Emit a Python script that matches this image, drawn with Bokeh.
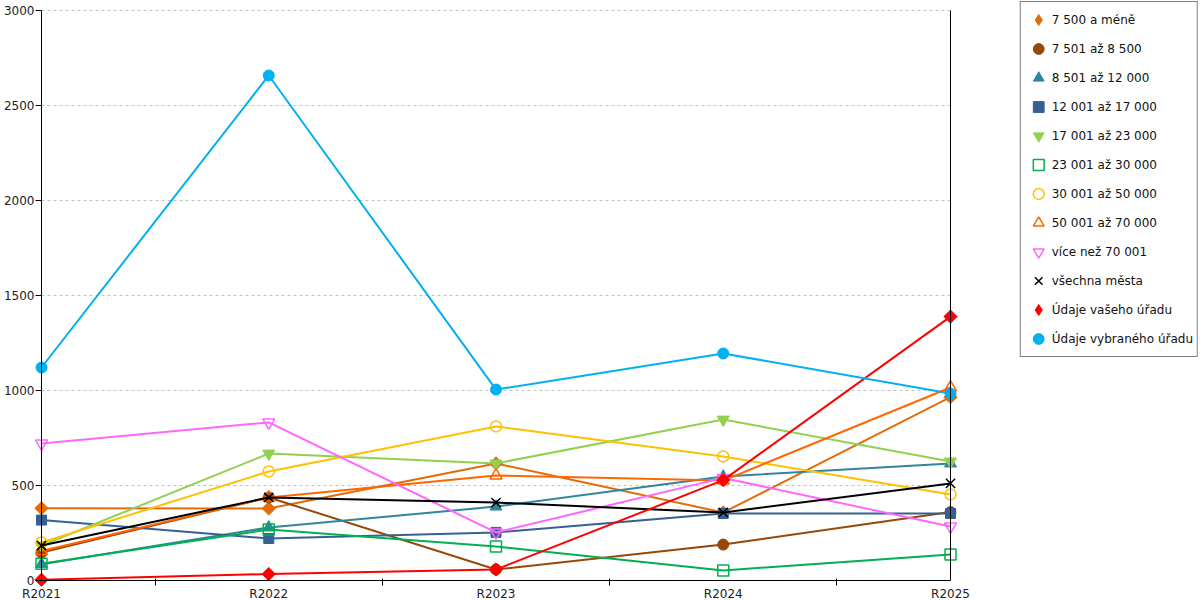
import math
from bokeh.plotting import figure
from bokeh.models import (Range1d, FixedTicker, LinearAxis, Legend, LegendItem,
                          ColumnDataSource)
from bokeh.embed import file_html
from bokeh.resources import INLINE

years = ["R2021", "R2022", "R2023", "R2024", "R2025"]

s_7500 = [380, 379, 616, 358, 965]
s_8500 = [147, 437, 58, 189, 360]
s_12000 = [86, 279, 389, 547, 616]
s_17000 = [318, 221, 253, 353, 353]
s_23000 = [184, 668, 616, 847, 626]
s_30000 = [88, 268, 179, 53, 137]
s_50000 = [200, 574, 811, 653, 453]
s_70000 = [155, 437, 553, 526, 1016]
s_over = [721, 832, 253, 540, 284]
s_all = [184, 437, 410, 358, 511]
s_yours = [4, 34, 58, 528, 1389]
s_selected = [1121, 2658, 1005, 1195, 984]

y_ticks = [0, 500, 1000, 1500, 2000, 2500, 3000]

names = ["7 500 a méně", "7 501 až 8 500", "8 501 až 12 000", "12 001 až 17 000",
         "17 001 až 23 000", "23 001 až 30 000", "30 001 až 50 000",
         "50 001 až 70 000", "více než 70 001", "všechna města",
         "Údaje vašeho úřadu", "Údaje vybraného úřadu"]
series = [s_7500, s_8500, s_12000, s_17000, s_23000, s_30000, s_50000,
          s_70000, s_over, s_all, s_yours, s_selected]
colors = ["#E36C09", "#974706", "#31859C", "#366092", "#92D050", "#00B050",
          "#FFC000", "#FF6600", "#FF66FF", "#000000", "#FF0000", "#00B0F0"]
# "diamond" points are drawn as a square turned by 45 degrees
markers = ["diamond", "circle", "triangle", "square", "inverted_triangle",
           "square", "circle", "triangle", "inverted_triangle", "x",
           "diamond", "circle"]
filled = [True, True, True, True, True, False, False, False, False, False,
          True, True]
sizes = [13, 11, 12, 10, 12, 11, 11, 12, 12, 13, 13, 11]

FONT = "DejaVu Sans"

# layout: the frame covers the whole canvas, axes are pinned at data 0 / 4
PX_X = 227.25          # px per category step
PX_Y = 0.19            # px per value unit
FW, FH = 1199, 600
X0_PX, YTOP_PX = 41, 10
x_start = -X0_PX / PX_X
y_end = y_ticks[-1] + YTOP_PX / PX_Y
y_start = y_end - FH / PX_Y

p = figure(frame_width=FW, frame_height=FH, output_backend="svg",
           toolbar_location=None,
           x_range=Range1d(x_start, x_start + FW / PX_X),
           y_range=Range1d(y_start, y_end),
           min_border_left=0, min_border_right=0, min_border_top=0,
           min_border_bottom=0)
p.outline_line_color = None
p.background_fill_color = "white"

xs = list(range(len(years)))
items = []
for name, ys, col, mk, fl, sz in zip(names, series, colors, markers, filled, sizes):
    src = ColumnDataSource(dict(x=xs, y=ys))
    p.line("x", "y", source=src, line_color=col, line_width=2)
    style = dict(line_color=col, fill_color=col if fl else "white",
                 fill_alpha=1.0 if fl else 0.0, line_width=1.5 if not fl else 1)
    if mk == "diamond":
        p.scatter("x", "y", source=src, marker="square", size=sz * 0.72,
                  angle=math.pi / 4, **style)
        # zero-size twin used only for the legend swatch
        r = p.scatter("x", "y", source=src, marker="diamond", size=0, **style)
    else:
        r = p.scatter("x", "y", source=src, marker=mk, size=sz, **style)
    items.append(LegendItem(label=name, renderers=[r]))

# axes
xa = p.xaxis[0]
xa.fixed_location = 0
xa.bounds = (0, len(years) - 1)
xa.ticker = FixedTicker(ticks=xs, minor_ticks=[0.5, 1.5, 2.5, 3.5])
xa.major_label_overrides = {i: y for i, y in enumerate(years)}
xa.major_tick_out = 0
xa.major_tick_in = 0
xa.minor_tick_out = 5
xa.minor_tick_in = 2
xa.axis_line_color = "black"
xa.minor_tick_line_color = "black"
xa.major_label_text_font = FONT
xa.major_label_text_font_size = "12px"
xa.major_label_text_color = "#222222"
xa.major_label_standoff = 1

ya = p.yaxis[0]
ya.fixed_location = 0
ya.bounds = (0, 3000)
ya.ticker = FixedTicker(ticks=y_ticks)
ya.major_tick_out = 6
ya.major_tick_in = 0
ya.minor_tick_out = 0
ya.minor_tick_in = 0
ya.axis_line_color = "black"
ya.major_tick_line_color = "black"
ya.major_label_text_font = FONT
ya.major_label_text_font_size = "12px"
ya.major_label_text_color = "#222222"
ya.major_label_standoff = 1

ra = LinearAxis(ticker=FixedTicker(ticks=[]), major_label_text_font_size="0px",
                major_tick_out=0, minor_tick_out=0, axis_line_color="black",
                fixed_location=len(years) - 1, bounds=(0, 3000))
p.add_layout(ra, "right")

p.xgrid.grid_line_color = None
p.ygrid.grid_line_color = "#C0C0C0"
p.ygrid.grid_line_dash = "3 3"
p.ygrid.ticker = FixedTicker(ticks=y_ticks[1:])
p.ygrid.cross_bounds = (0, len(years) - 1)

legend = Legend(items=items, location="top_right", label_text_font=FONT,
                label_text_font_size="12px", spacing=2, padding=4,
                border_line_color="black", border_line_width=1,
                glyph_width=27, glyph_height=27, label_standoff=0,
                label_height=14, label_text_color="#111111",
                background_fill_alpha=1.0, margin=1)
p.add_layout(legend)

open("out.html", "w").write(file_html(p, INLINE))
